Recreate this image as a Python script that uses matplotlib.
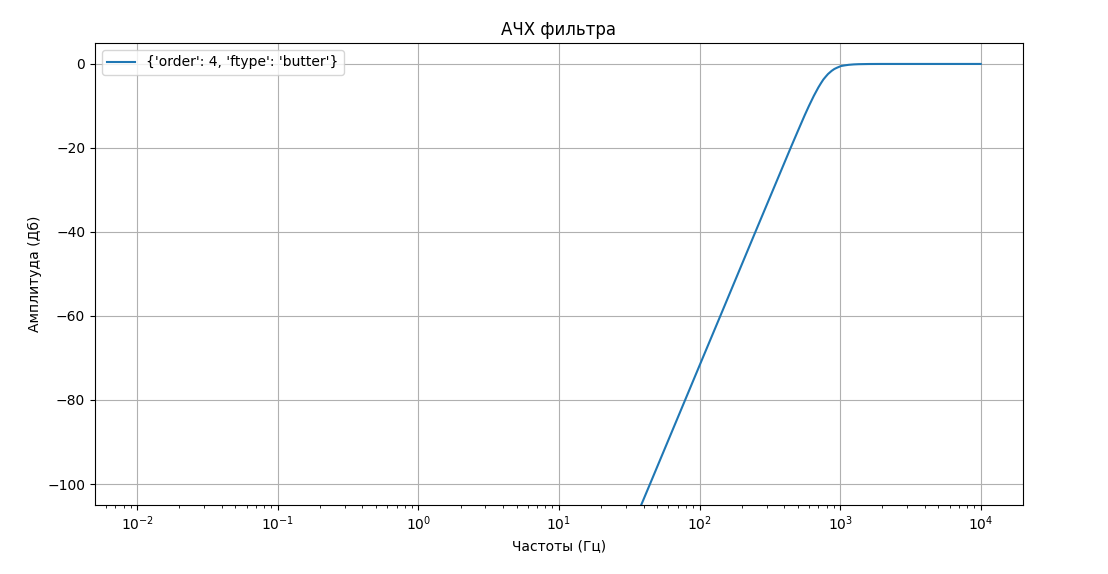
import matplotlib
matplotlib.use('Agg')
import matplotlib.pyplot as plt
import numpy as np

# frequency response (Hz, dB)
freqs = [0.01, 1, 10, 38.8, 44.7, 79, 100, 143, 246, 447, 500, 560, 600, 650,
         700, 730, 760, 791, 820, 870, 910, 950, 1014, 1080, 1150, 1250, 1350,
         1600, 2000, 10000]
ampl_db = [-392, -232, -152, -104.7, -99.8, -80, -71.8, -59.4, -40.5, -19.8,
           -16.0, -12.2, -10.0, -7.6, -5.6, -4.6, -3.7, -3.0, -2.4, -1.65,
           -1.2, -0.9, -0.5, -0.34, -0.21, -0.11, -0.06, -0.015, 0, 0]
filter_params = {'order': 4, 'ftype': 'butter'}

fig = plt.figure(figsize=(11.08, 5.74), dpi=100)
ax = fig.add_axes([0.0857, 0.1202, 0.8375, 0.805])

ax.semilogx(freqs, ampl_db, label=str(filter_params))
ax.set_ylim(-105, 5)
ax.set_title('АЧХ фильтра')
ax.set_xlabel('Частоты (Гц)')
ax.set_ylabel('Амплитуда (Дб)')
ax.grid(True)
ax.legend(loc='upper left')

plt.savefig('out.png', dpi=100)
